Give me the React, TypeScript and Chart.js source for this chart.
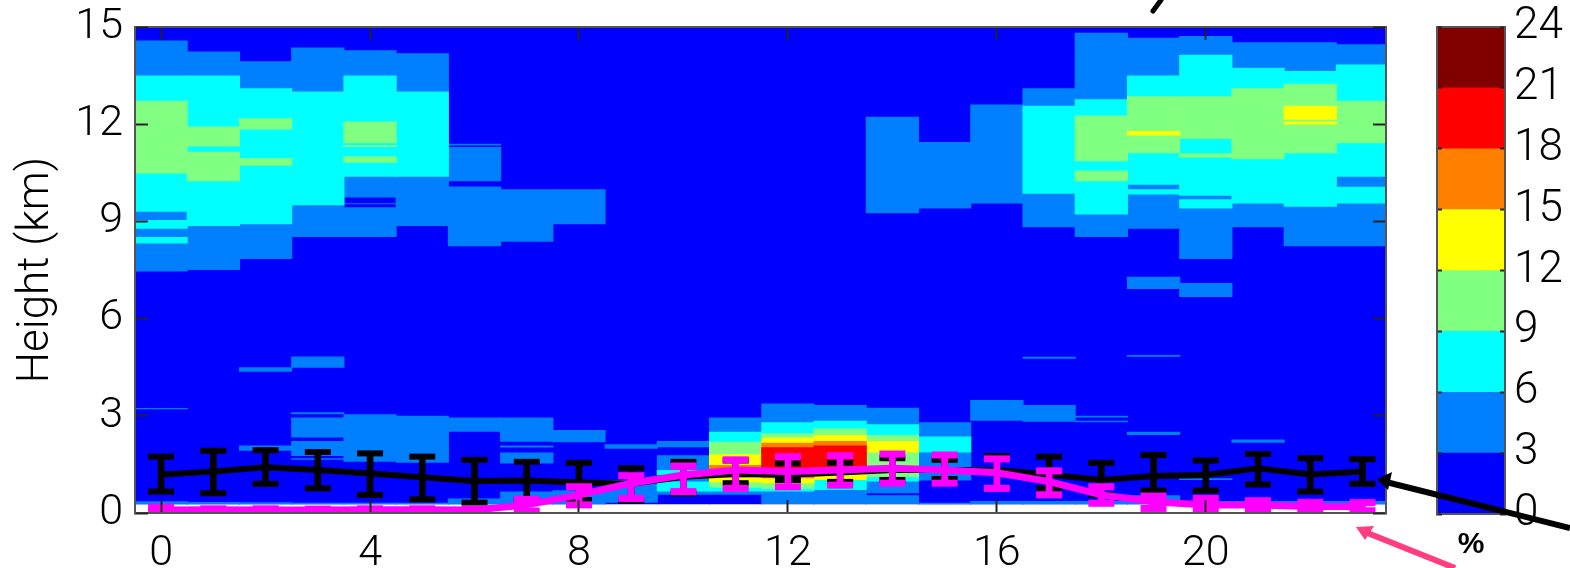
import React, { useEffect, useRef } from "react";
import { Chart, registerables } from "chart.js";

Chart.register(...registerables);

type Span = [number, number, number];

const hours = [0, 1, 2, 3, 4, 5, 6, 7, 8, 9, 10, 11, 12, 13, 14, 15, 16, 17, 18, 19, 20, 21, 22, 23];
const xTickValues = [0, 4, 8, 12, 16, 20];
const yTickValues = [0, 3, 6, 9, 12, 15];
const colorbarEdges = [0, 3, 6, 9, 12, 15, 18, 21, 24];
const colorbarColors = ["#0000ff", "#0080ff", "#00ffff", "#80ff80", "#ffff00", "#ff8000", "#ff0000", "#800000"];
const floorKm = [0.27, 0.27, 0.27, 0.27, 0.27, 0.27, 0.27, 0.27, 0.27, 0.27, 0.27, 0.27, 0.27, 0.27, 0.27, 0.27, 0.27, 0.27, 0.27, 0.27, 0.27, 0.27, 0.27, 0.27];

const band3: Span[] = [
  [0, 7.45, 14.58], [1, 7.5, 14.24], [2, 7.84, 13.94], [3, 8.52, 14.37],
  [4, 9.74, 14.28], [4, 9.53, 9.56], [4, 8.52, 9.44], [5, 8.86, 14.19],
  [6, 11.34, 11.4], [6, 10.24, 11.3], [6, 8.23, 10.08], [7, 8.37, 9.99], [8, 8.91, 9.99],
  [14, 9.25, 12.23], [15, 9.4, 11.45], [16, 9.55, 12.61], [17, 8.82, 13.11],
  [18, 8.52, 14.82], [19, 8.77, 14.67], [19, 6.91, 7.29], [20, 7.84, 14.72], [20, 6.67, 7.1],
  [21, 8.82, 14.53], [22, 8.23, 14.53], [23, 8.23, 14.47],
  [2, 4.36, 4.5], [3, 4.48, 4.83], [17, 4.76, 4.82], [19, 4.82, 4.88],
  [0, 3.2, 3.24], [0, 0.27, 0.36], [1, 0.27, 0.34], [2, 1.92, 2.08], [2, 0.27, 0.33],
  [3, 3.05, 3.11], [3, 2.33, 2.95], [3, 1.76, 2.22], [3, 1.64, 1.69], [3, 0.27, 0.32],
  [4, 1.58, 3.05], [4, 0.27, 0.32], [5, 1.55, 3.0], [5, 0.27, 0.32],
  [6, 2.51, 2.95], [6, 0.27, 0.45], [7, 2.2, 2.95], [7, 2.02, 2.08], [7, 1.53, 1.87], [7, 0.27, 0.66],
  [8, 2.18, 2.56], [8, 0.27, 0.7], [9, 1.98, 2.12], [9, 0.32, 1.02],
  [10, 2.03, 2.22], [10, 0.56, 1.78], [11, 0.56, 2.95], [12, 0.28, 3.38], [13, 0.28, 3.33],
  [14, 0.61, 3.25], [14, 0.28, 0.55], [15, 1.0, 2.8], [15, 0.27, 0.32],
  [16, 2.85, 3.49], [16, 0.27, 0.37], [17, 2.82, 3.33], [17, 0.27, 0.37],
  [18, 2.95, 3.0], [18, 2.8, 2.85], [18, 0.27, 0.37], [19, 2.41, 2.51], [19, 0.27, 0.55],
  [20, 1.02, 1.07], [20, 0.27, 0.37], [21, 2.17, 2.27], [21, 0.27, 0.37], [22, 0.27, 0.37], [23, 0.27, 0.37],
];
const band6: Span[] = [
  [0, 9.3, 13.5], [0, 8.77, 9.04], [0, 8.32, 8.52], [1, 8.86, 13.5], [2, 8.91, 13.11], [3, 9.5, 13.01],
  [4, 10.38, 13.5], [5, 10.38, 13.01], [17, 9.85, 12.57], [18, 9.21, 12.77],
  [19, 10.13, 13.5], [19, 9.83, 9.99], [20, 9.79, 14.14], [20, 9.4, 9.68], [21, 9.55, 13.74],
  [22, 9.45, 13.64], [23, 10.38, 13.84], [23, 9.55, 10.07],
  [10, 1.17, 1.33], [10, 0.66, 0.97], [11, 0.66, 2.51], [12, 0.66, 2.8], [13, 0.71, 2.85], [14, 0.97, 2.74], [15, 1.87, 2.36],
];
const band9: Span[] = [
  [0, 10.48, 12.72], [1, 11.31, 11.93], [1, 10.24, 11.15], [2, 11.84, 12.18], [2, 10.72, 10.96],
  [4, 11.41, 12.08], [4, 11.3, 11.36], [4, 10.81, 11.01], [18, 10.86, 12.27], [18, 10.24, 10.57],
  [19, 11.1, 12.86], [20, 11.54, 12.86], [20, 10.97, 11.1], [21, 10.92, 13.11], [22, 11.1, 13.25], [23, 11.41, 12.72],
  [11, 0.78, 2.2], [12, 0.74, 2.46], [13, 1.02, 2.61], [14, 1.1, 2.41],
];
const band12: Span[] = [
  [19, 11.65, 11.79], [22, 12.14, 12.57], [22, 11.99, 12.08],
  [11, 0.95, 1.81], [12, 0.92, 2.33], [13, 1.02, 2.41], [14, 1.87, 2.22],
];
const band15: Span[] = [[11, 1.1, 1.48], [12, 1.07, 2.17], [13, 1.22, 2.22]];
const band18: Span[] = [[12, 1.33, 2.03], [13, 1.41, 2.08]];

const blackMean = [1.19, 1.28, 1.41, 1.33, 1.22, 1.1, 0.99, 1.0, 0.94, 0.9, 1.12, 1.2, 1.18, 1.25, 1.33, 1.33, 1.33, 1.19, 1.02, 1.14, 1.17, 1.38, 1.19, 1.28];
const blackHigh = [1.74, 1.92, 1.94, 1.88, 1.84, 1.74, 1.64, 1.58, 1.55, 1.38, 1.58, 1.62, 1.53, 1.55, 1.69, 1.64, 1.76, 1.74, 1.55, 1.79, 1.62, 1.82, 1.69, 1.66];
const blackLow = [0.66, 0.61, 0.9, 0.76, 0.56, 0.42, 0.32, 0.4, 0.4, 0.38, 0.6, 0.92, 1.02, 0.96, 1.02, 1.05, 0.76, 0.76, 0.56, 0.69, 0.69, 0.88, 0.66, 0.9];
const magentaMean = [0.09, 0.1, 0.09, 0.09, 0.1, 0.1, 0.09, 0.25, 0.56, 0.92, 1.17, 1.33, 1.28, 1.33, 1.38, 1.33, 1.24, 0.97, 0.56, 0.35, 0.25, 0.25, 0.2, 0.2];
const magentaHigh = [0.18, 0.13, 0.13, 0.12, 0.13, 0.13, 0.12, 0.42, 0.81, 1.15, 1.45, 1.64, 1.74, 1.77, 1.82, 1.79, 1.67, 1.3, 0.81, 0.52, 0.45, 0.38, 0.33, 0.32];
const magentaLow = [0.05, 0.05, 0.05, 0.05, 0.05, 0.05, 0.05, 0.06, 0.25, 0.45, 0.66, 0.76, 0.81, 0.86, 0.92, 0.92, 0.76, 0.56, 0.3, 0.14, 0.07, 0.09, 0.07, 0.07];

const BLACK = "#000000";
const MAGENTA = "#ff00ff";
const AXIS = "#555555";
const TICK = "#222222";
const FONT = "Roboto, 'Liberation Sans', sans-serif";

const spanBars = (spans: Span[], color: string) => ({
  type: "bar",
  data: spans.map(([x, lo, hi]) => ({ x, y: [lo, hi] })),
  backgroundColor: color,
  barPercentage: 1.02,
  categoryPercentage: 1,
  grouped: false,
});

const stems = (low: number[], high: number[], color: string) => ({
  type: "bar",
  data: hours.map((x, i) => ({ x, y: [low[i], high[i]] })),
  backgroundColor: color,
  barPercentage: 1,
  categoryPercentage: 1,
  maxBarThickness: 6,
  grouped: false,
});

const caps = (vals: number[], color: string, thick: number) => ({
  type: "line",
  data: hours.map((x, i) => ({ x, y: vals[i] })),
  showLine: false,
  pointStyle: "line",
  pointRadius: 13,
  pointHoverRadius: 13,
  pointBorderWidth: thick,
  pointBorderColor: color,
  pointBackgroundColor: color,
});

const meanLine = (vals: number[], color: string, width: number) => ({
  type: "line",
  data: hours.map((x, i) => ({ x, y: vals[i] })),
  borderColor: color,
  borderWidth: width,
  pointRadius: 0,
  tension: 0,
  fill: false,
});

const fixSize = (size: number) => (scale: any) => {
  if (scale.isHorizontal()) scale.height = size;
  else scale.width = size;
  scale.paddingTop = 0;
  scale.paddingBottom = 0;
  scale.paddingLeft = 0;
  scale.paddingRight = 0;
};

export default function App() {
  const mainRef = useRef<HTMLCanvasElement>(null);
  const barRef = useRef<HTMLCanvasElement>(null);

  useEffect(() => {
    const xRange = { min: -0.5, max: 23.45 };
    const yRange = { min: 0, max: 15 };
    const setX = (s: any) => { s.ticks = xTickValues.map((value) => ({ value })); };
    const setY = (s: any) => { s.ticks = yTickValues.map((value) => ({ value })); };
    const gridOpts = { drawOnChartArea: false, drawTicks: true, tickLength: -13, tickColor: TICK, tickWidth: 2, z: 1, offset: false };
    const borderOpts = { display: true, color: AXIS, width: 2, z: 1 };
    const tickFont = (size: number) => ({ family: FONT, size, weight: "300" });

    const main = new Chart(mainRef.current as HTMLCanvasElement, {
      type: "bar",
      data: {
        datasets: [
          meanLine(magentaMean, MAGENTA, 7),
          caps(magentaHigh, MAGENTA, 7),
          caps(magentaLow, MAGENTA, 7),
          stems(magentaLow, magentaHigh, MAGENTA),
          meanLine(blackMean, BLACK, 6),
          caps(blackHigh, BLACK, 6),
          caps(blackLow, BLACK, 6),
          stems(blackLow, blackHigh, BLACK),
          spanBars(band18, colorbarColors[6]),
          spanBars(band15, colorbarColors[5]),
          spanBars(band12, colorbarColors[4]),
          spanBars(band9, colorbarColors[3]),
          spanBars(band6, colorbarColors[2]),
          spanBars(band3, colorbarColors[1]),
          spanBars(hours.map((h, i) => [h, floorKm[i], 15] as Span), colorbarColors[0]),
        ] as any,
      },
      options: {
        responsive: false,
        animation: false,
        devicePixelRatio: 1,
        layout: { padding: { left: 0, top: 27, right: 184, bottom: 0 } },
        plugins: { legend: { display: false }, tooltip: { enabled: false }, title: { display: false } },
        scales: {
          x: {
            type: "linear", position: "bottom", ...xRange, offset: false,
            afterBuildTicks: setX, afterFit: fixSize(55),
            grid: gridOpts, border: borderOpts,
            ticks: { color: BLACK, padding: 28, autoSkip: false, maxRotation: 0, font: tickFont(43) },
          },
          xTop: {
            type: "linear", position: "top", ...xRange, offset: false,
            afterBuildTicks: setX, afterFit: fixSize(0),
            grid: gridOpts, border: borderOpts, ticks: { display: false },
          },
          y: {
            type: "linear", position: "left", ...yRange,
            afterBuildTicks: setY, afterFit: fixSize(135),
            grid: gridOpts, border: borderOpts,
            ticks: { color: BLACK, padding: 25, font: tickFont(43) },
            title: { display: true, text: "Height (km)", color: BLACK, font: tickFont(44), padding: { top: 11, bottom: 0 } },
          },
          yRight: {
            type: "linear", position: "right", ...yRange,
            afterBuildTicks: setY, afterFit: fixSize(0),
            grid: gridOpts, border: borderOpts, ticks: { display: false },
          },
        } as any,
      },
    });

    const barGrid = { drawOnChartArea: false, tickLength: -5, tickColor: TICK, tickWidth: 2, z: 1 };
    const barScale = (position: string, size: number, labels: boolean) => ({
      type: "linear", position, min: 0, max: 24,
      afterBuildTicks: (s: any) => { s.ticks = colorbarEdges.map((value) => ({ value })); },
      afterFit: fixSize(size),
      grid: barGrid, border: borderOpts,
      ticks: labels ? { color: BLACK, padding: 14, font: tickFont(44) } : { display: false },
    });
    const bar = new Chart(barRef.current as HTMLCanvasElement, {
      type: "bar",
      data: {
        labels: ["%"],
        datasets: colorbarColors.map((color, i) => ({
          data: [[colorbarEdges[i], colorbarEdges[i + 1]]],
          backgroundColor: color,
          barPercentage: 1,
          categoryPercentage: 1,
          grouped: false,
        })) as any,
      },
      options: {
        responsive: false,
        animation: false,
        devicePixelRatio: 1,
        layout: { padding: { left: 37, top: 27, right: 0, bottom: 0 } },
        plugins: { legend: { display: false }, tooltip: { enabled: false } },
        scales: {
          x: {
            position: "bottom", afterFit: fixSize(54),
            grid: { drawOnChartArea: false, drawTicks: false }, border: borderOpts,
            ticks: { color: BLACK, padding: 13, font: { family: "'Liberation Sans', sans-serif", size: 30, weight: "bold" } },
          },
          xTop: {
            type: "category", labels: ["%"], position: "top", afterFit: fixSize(0),
            grid: { drawOnChartArea: false, drawTicks: false }, border: borderOpts, ticks: { display: false },
          },
          yLeft: barScale("left", 0, false),
          y: barScale("right", 65, true),
        } as any,
      },
    });

    return () => {
      main.destroy();
      bar.destroy();
    };
  }, []);

  return (
    <div style={{ position: "absolute", left: 0, top: 0, width: 1570, height: 568, overflow: "hidden", background: "#fff" }}>
      <canvas ref={mainRef} width={1570} height={568} style={{ position: "absolute", left: 0, top: 0 }} />
      <canvas ref={barRef} width={170} height={568} style={{ position: "absolute", left: 1400, top: 0 }} />
      <svg width={1570} height={568} style={{ position: "absolute", left: 0, top: 0, pointerEvents: "none" }}>
        <line x1={1570} y1={528} x2={1386} y2={482} stroke="#000" strokeWidth={6} />
        <polygon points="1377,479 1392,472 1388,490" fill="#000" />
        <line x1={1455} y1={568} x2={1365} y2={532} stroke="#ff3d7f" strokeWidth={6} />
        <polygon points="1356,527 1374,526 1365,540" fill="#ff3d7f" />
        <path d="M1161 0 L1153 11" stroke="#000" strokeWidth={5} strokeLinecap="round" />
      </svg>
    </div>
  );
}
